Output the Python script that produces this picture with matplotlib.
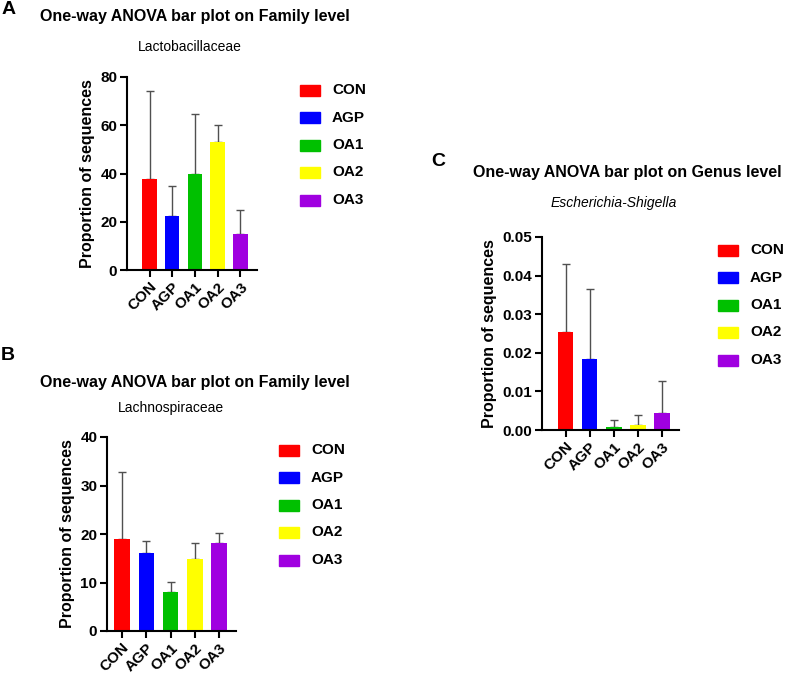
'''
Three one-way ANOVA bar plots (Family / Genus level)
'''
import matplotlib
matplotlib.use('Agg')
import matplotlib.pyplot as plt
from matplotlib.patches import Rectangle
import numpy as np

plt.rcParams['font.family'] = ['Liberation Sans', 'DejaVu Sans']

groups = ['CON', 'AGP', 'OA1', 'OA2', 'OA3']
colors = ['#FF0000', '#0000FF', '#00C000', '#FFFF00', '#A000E0']

# panel A - Lactobacillaceae
lacto_mean = [37.7, 22.4, 39.8, 53.0, 14.9]
lacto_sd = [36.5, 12.4, 25.0, 6.9, 9.8]
# panel B - Lachnospiraceae
lachno_mean = [19.0, 16.0, 8.1, 14.8, 18.1]
lachno_sd = [13.7, 2.5, 2.1, 3.4, 2.2]
# panel C - Escherichia-Shigella
esch_mean = [0.0253, 0.0184, 0.0009, 0.0014, 0.0045]
esch_sd = [0.0178, 0.0182, 0.0017, 0.0026, 0.0081]

W, H = 785, 675
fig = plt.figure(figsize=(W / 100, H / 100), dpi=100)


def px_axes(left, top, right, bottom):
    return fig.add_axes([left / W, 1 - bottom / H, (right - left) / W, (bottom - top) / H])


def bar_panel(ax, mean, sd, yticks, ylabels, xlim):
    x = np.arange(len(groups))
    ax.errorbar(x, mean, yerr=[np.zeros(len(sd)), sd], fmt='none', ecolor='#505050',
                elinewidth=1.0, capsize=3, capthick=1.0, zorder=1)
    bars = ax.bar(x, mean, width=0.64, color=colors, zorder=2)
    ax.set_xlim(*xlim)
    ax.set_ylim(yticks[0], yticks[-1])
    ax.set_yticks(yticks)
    ax.set_yticklabels(ylabels, fontsize=11, fontweight='bold')
    ax.set_xticks(x)
    ax.set_xticklabels(groups, fontsize=11, fontweight='bold', rotation=45,
                       ha='right', rotation_mode='anchor')
    for s in ['top', 'right']:
        ax.spines[s].set_visible(False)
    for s in ['left', 'bottom']:
        ax.spines[s].set_linewidth(1.5)
    ax.tick_params(width=1.5, length=5, pad=2)
    ax.set_ylabel('Proportion of sequences', fontsize=11.5, fontweight='bold')
    return bars


def legend_px(x, y0, step=27.5):
    for i, (g, c) in enumerate(zip(groups, colors)):
        yc = y0 + i * step
        fig.patches.append(Rectangle((x / W, 1 - (yc + 5.5) / H), 20 / W, 11 / H,
                                     color=c, transform=fig.transFigure))
        fig.text((x + 32) / W, 1 - yc / H, g, fontsize=11, fontweight='bold', va='center')


# A
axA = px_axes(127, 77, 257, 270)
bar_panel(axA, lacto_mean, lacto_sd, [0, 20, 40, 60, 80], ['0', '20', '40', '60', '80'], (-0.99, 4.73))
fig.text(2 / W, 1 - 10 / H, 'A', fontsize=14, fontweight='bold', va='center')
fig.text(195 / W, 1 - 17 / H, 'One-way ANOVA bar plot on Family level', fontsize=11.5,
         fontweight='bold', ha='center', va='center')
fig.text(190 / W, 1 - 47 / H, 'Lactobacillaceae', fontsize=10, ha='center', va='center')
legend_px(300, 90)

# B
axB = px_axes(107, 437, 236, 631)
bar_panel(axB, lachno_mean, lachno_sd, [0, 10, 20, 30, 40], ['0', '10', '20', '30', '40'], (-0.62, 4.7))
fig.text(1 / W, 1 - 355 / H, 'B', fontsize=14, fontweight='bold', va='center')
fig.text(195 / W, 1 - 382 / H, 'One-way ANOVA bar plot on Family level', fontsize=11.5,
         fontweight='bold', ha='center', va='center')
fig.text(171 / W, 1 - 408 / H, 'Lachnospiraceae', fontsize=10, ha='center', va='center')
legend_px(279, 450)

# C
axC = px_axes(542, 237, 679, 430)
bar_panel(axC, esch_mean, esch_sd, [0, 0.01, 0.02, 0.03, 0.04, 0.05],
          ['0.00', '0.01', '0.02', '0.03', '0.04', '0.05'], (-0.975, 4.7))
fig.text(431 / W, 1 - 162 / H, 'C', fontsize=14, fontweight='bold', va='center')
fig.text(627 / W, 1 - 173 / H, 'One-way ANOVA bar plot on Genus level', fontsize=11.5,
         fontweight='bold', ha='center', va='center')
fig.text(614 / W, 1 - 203 / H, 'Escherichia-Shigella', fontsize=10, style='italic',
         ha='center', va='center')
legend_px(718, 250)

plt.savefig('out.png', dpi=100)
